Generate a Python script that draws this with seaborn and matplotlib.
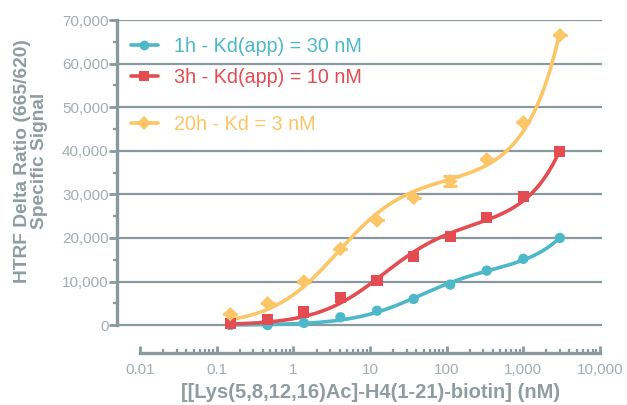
import numpy as np
import pandas as pd
import matplotlib
matplotlib.use('Agg')
import matplotlib.pyplot as plt
import seaborn as sns
from matplotlib.ticker import FixedLocator, NullFormatter
from matplotlib.lines import Line2D

# data
conc = [0.15, 0.46, 1.37, 4.1, 12.3, 37, 111, 333, 1000, 3000]
sig_1h = [0, 0, 500, 1800, 3300, 6000, 9300, 12500, 15200, 20000]
sig_3h = [300, 1300, 3000, 6300, 10300, 15800, 20300, 24600, 29600, 39800]
sig_20h = [2500, 5000, 10000, 17500, 24000, 29200, 33000, 38000, 46500, 66500]
err_20h = [0, 0, 0, 0, 0, 0, 1150, 0, 0, 0]

labels = ['1h - Kd(app) = 30 nM', '3h - Kd(app) = 10 nM', '20h - Kd = 3 nM']
kd_guess = [30, 10, 3]
colors = ['#4cb8c9', '#e44c51', '#fcc666']
markers = ['o', 's', 'D']
marker_sizes = [55, 64, 55]

x_ticks = [0.01, 0.1, 1, 10, 100, 1000, 10000]
x_ticklabels = ['0.01', '0.1', '1', '10', '100', '1,000', '10,000']
y_ticks = [0, 10000, 20000, 30000, 40000, 50000, 60000, 70000]
y_ticklabels = ['0', '10,000', '20,000', '30,000', '40,000', '50,000', '60,000', '70,000']

axis_gray = '#8a999e'
tick_gray = '#a3aeb2'
label_gray = '#8f9ca0'


def fit_total_binding(x, y, kd0):
    # total binding = Bmax*x/(Kd+x) + NS*x, Kd scanned, Bmax/NS by least squares
    x = np.asarray(x, float)
    y = np.asarray(y, float)
    best = None
    for kd in kd0 * np.logspace(-1, 1, 201):
        A = np.column_stack([x / (kd + x), x])
        coef, *_ = np.linalg.lstsq(A, y, rcond=None)
        sse = np.sum((A @ coef - y) ** 2)
        if best is None or sse < best[0]:
            best = (sse, kd, coef)
    _, kd, (bmax, ns) = best
    xx = np.logspace(np.log10(x.min()), np.log10(x.max()), 300)
    return xx, bmax * xx / (kd + xx) + ns * xx


sns.set_style('white')
plt.rcParams['font.family'] = ['Liberation Sans', 'DejaVu Sans']

fig = plt.figure(figsize=(6.27, 4.05), dpi=100)
ax = fig.add_axes([117 / 627, 1 - 353 / 405, (602 - 117) / 627, (353 - 20) / 405])

for yv in y_ticks:
    ax.axhline(yv, color=axis_gray, lw=1.6, zorder=0)

series = [sig_1h, sig_3h, sig_20h]
for sig, kd, c, m, s in zip(series, kd_guess, colors, markers, marker_sizes):
    xx, yy = fit_total_binding(conc, sig, kd)
    sns.lineplot(x=xx, y=yy, color=c, lw=2.6, ax=ax, zorder=3, legend=False)
    sns.scatterplot(x=conc, y=sig, marker=m, s=s, color=c, edgecolor='none',
                    ax=ax, zorder=4, legend=False)

ax.errorbar(conc, sig_20h, yerr=err_20h, fmt='none', ecolor=colors[2],
            elinewidth=2, capsize=4.7, capthick=2.2, zorder=4)

ax.set_xscale('log')
ax.set_xlim(10 ** (-2 - 23 / 76), 10 ** (4 + 2 / 76))
ax.set_ylim(-6400, 70000)

for side in ['top', 'right']:
    ax.spines[side].set_visible(False)
ax.spines['left'].set_bounds(0, 70000)
ax.spines['bottom'].set_bounds(0.01, 10000)
for side in ['left', 'bottom']:
    ax.spines[side].set_color(axis_gray)
    ax.spines[side].set_linewidth(2.4)

ax.xaxis.set_major_locator(FixedLocator(x_ticks))
ax.set_xticklabels(x_ticklabels)
minor_x = [m * 10.0 ** e for e in range(-2, 4) for m in range(2, 10)]
ax.xaxis.set_minor_locator(FixedLocator(minor_x))
ax.xaxis.set_minor_formatter(NullFormatter())
ax.yaxis.set_major_locator(FixedLocator(y_ticks))
ax.set_yticklabels(y_ticklabels)
ax.yaxis.set_minor_locator(FixedLocator([5000 + 10000 * i for i in range(7)]))

# seaborn "white" style switches the ticks off
ax.tick_params(axis='x', which='both', bottom=True)
ax.tick_params(axis='y', which='both', left=True)
ax.tick_params(axis='x', which='major', direction='in', length=5, width=2,
               color=axis_gray, labelcolor=tick_gray, labelsize=11, pad=7)
ax.tick_params(axis='x', which='minor', direction='in', length=3, width=1.6,
               color=axis_gray)
ax.tick_params(axis='y', which='major', direction='out', length=6, width=2,
               color=axis_gray, labelcolor=tick_gray, labelsize=11, pad=0)
ax.tick_params(axis='y', which='minor', direction='out', length=3, width=1.6,
               color=axis_gray)

fig.text(31 / 627, 1 - 161 / 405, 'HTRF Delta Ratio (665/620)\nSpecific Signal',
         rotation=90, ha='center', va='center', fontsize=13.8, fontweight='bold',
         color=label_gray, linespacing=1.0)
fig.text(371 / 627, 1 - 393 / 405, '[[Lys(5,8,12,16)Ac]-H4(1-21)-biotin] (nM)',
         ha='center', va='center', fontsize=14.5, fontweight='bold', color=label_gray)

handles = [Line2D([], [], color=c, lw=2.6, marker=m, markersize=7, markeredgewidth=0)
           for c, m in zip(colors, markers)]
leg1 = ax.legend(handles[:2], labels[:2], loc='upper left',
                 bbox_to_anchor=(131 / 627, 1 - 37 / 405), bbox_transform=fig.transFigure,
                 frameon=False, fontsize=14.2, labelcolor='linecolor', handlelength=1.35,
                 handletextpad=0.85, labelspacing=0.62, borderpad=0, borderaxespad=0)
ax.add_artist(leg1)
ax.legend(handles[2:], labels[2:], loc='upper left',
          bbox_to_anchor=(131 / 627, 1 - 115 / 405), bbox_transform=fig.transFigure,
          frameon=False, fontsize=14.2, labelcolor='linecolor', handlelength=1.35,
          handletextpad=0.85, borderpad=0, borderaxespad=0)

fig.savefig('out.png', dpi=100)
